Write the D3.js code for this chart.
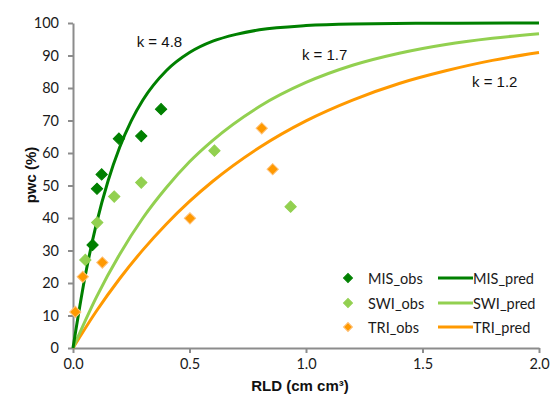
<!DOCTYPE html>
<html>
<head>
<meta charset="utf-8">
<script src="https://cdn.jsdelivr.net/npm/d3@7"></script>
<style>
html,body{margin:0;padding:0;background:#fff;}
svg{display:block;}
</style>
</head>
<body>
<svg id="chart" width="557" height="396"></svg>
<script>
// ---- data ----
const xTicks = [0, 0.5, 1.0, 1.5, 2.0];
const yTicks = [0, 10, 20, 30, 40, 50, 60, 70, 80, 90, 100];

const misObsX = [0.084, 0.103, 0.123, 0.197, 0.293, 0.378];
const misObsY = [31.7, 49.0, 53.4, 64.4, 65.2, 73.5];
const swiObsX = [0.053, 0.104, 0.177, 0.293, 0.607, 0.934];
const swiObsY = [27.1, 38.6, 46.6, 50.9, 60.7, 43.5];
const triObsX = [0.010, 0.042, 0.126, 0.502, 0.810, 0.857];
const triObsY = [11.1, 21.9, 26.3, 39.9, 67.6, 55.0];

const misPredX = [0, 0.05, 0.1, 0.15, 0.2, 0.25, 0.3, 0.4, 0.5, 0.6, 0.7, 0.8, 1.0, 1.2, 1.5, 2.0];
const misPredY = [0, 21.3, 38.1, 51.3, 61.7, 69.9, 76.3, 85.3, 90.9, 94.4, 96.5, 97.9, 99.2, 99.7, 99.9, 100];
const predX = [0, 0.1, 0.2, 0.3, 0.4, 0.5, 0.6, 0.8, 1.0, 1.2, 1.4, 1.6, 1.8, 2.0];
const swiPredY = [0, 15.6, 28.8, 40.0, 49.3, 57.3, 63.9, 74.3, 81.7, 87.0, 90.7, 93.4, 95.3, 96.7];
const triPredY = [0, 11.3, 21.3, 30.2, 38.1, 45.1, 51.3, 61.7, 69.9, 76.3, 81.4, 85.3, 88.5, 90.9];

const kLabels = ["k = 4.8", "k = 1.7", "k = 1.2"];
const kLabelX = [0.371, 1.08, 1.81];
const kLabelY = [94.2, 90.2, 81.9];

const seriesNames = ["MIS", "SWI", "TRI"];
const colors = ["#008000", "#92d050", "#ff9900"];

// ---- layout ----
const W = 557, H = 396;
const m = {left: 73, right: 18, top: 23, bottom: 48};
const svg = d3.select("#chart");
const x = d3.scaleLinear().domain([0, 2]).range([m.left, W - m.right]);
const y = d3.scaleLinear().domain([0, 100]).range([H - m.bottom, m.top]);

const tickFont = "Lato, 'Open Sans', sans-serif";
const axisColor = "#8c8c8c";

// axes
const xAxis = svg.append("g").attr("transform", `translate(0,${H - m.bottom})`)
  .call(d3.axisBottom(x).tickValues(xTicks).tickFormat(d3.format(".1f")).tickSize(5).tickPadding(6).tickSizeOuter(0));
const yAxis = svg.append("g").attr("transform", `translate(${m.left},0)`)
  .call(d3.axisLeft(y).tickValues(yTicks).tickSize(5).tickPadding(9).tickSizeOuter(0));
[xAxis, yAxis].forEach(a => {
  a.selectAll("path,line").attr("stroke", axisColor).attr("stroke-width", 2);
  a.selectAll("text").attr("fill", "#1a1a1a").style("font-family", tickFont).style("font-size", "14.5px");
});

// predicted lines
const preds = [
  {xs: misPredX, ys: misPredY, c: colors[0]},
  {xs: predX, ys: swiPredY, c: colors[1]},
  {xs: predX, ys: triPredY, c: colors[2]}
];
const line = d3.line().x(d => x(d[0])).y(d => y(d[1])).curve(d3.curveMonotoneX);
[2, 1, 0].forEach(i => {
  const p = preds[i];
  svg.append("path").datum(p.xs.map((v, j) => [v, p.ys[j]]))
    .attr("d", line).attr("fill", "none").attr("stroke", p.c).attr("stroke-width", 3);
});

// observed diamonds
const obs = [
  {xs: misObsX, ys: misObsY, c: colors[0], s: "#008000"},
  {xs: swiObsX, ys: swiObsY, c: colors[1], s: "#92d050"},
  {xs: triObsX, ys: triObsY, c: colors[2], s: "#ffc27a"}
];
obs.forEach(o => {
  svg.append("g").selectAll("path").data(o.xs.map((v, j) => [v, o.ys[j]])).join("path")
    .attr("d", d3.symbol().type(d3.symbolSquare).size(64))
    .attr("transform", d => `translate(${x(d[0])},${y(d[1])}) rotate(45)`)
    .attr("fill", o.c).attr("stroke", o.s).attr("stroke-width", 1);
});

// k labels
svg.append("g").selectAll("text").data(kLabels).join("text")
  .attr("x", (d, i) => x(kLabelX[i])).attr("y", (d, i) => y(kLabelY[i]))
  .attr("text-anchor", "middle").attr("dominant-baseline", "central")
  .style("font-family", "'Liberation Sans', Arial, sans-serif").style("font-size", "15px")
  .attr("fill", "#111").text(d => d);

// axis titles
svg.append("text").attr("x", 300).attr("y", 385).attr("text-anchor", "middle")
  .attr("dominant-baseline", "central")
  .style("font-family", "'Liberation Sans', Arial, sans-serif").style("font-size", "15px").style("font-weight", "bold")
  .attr("fill", "#111").text("RLD (cm cm³)");
svg.append("text").attr("transform", "translate(30,175) rotate(-90)").attr("text-anchor", "middle")
  .attr("dominant-baseline", "central")
  .style("font-family", "'Liberation Sans', Arial, sans-serif").style("font-size", "15px").style("font-weight", "bold")
  .attr("fill", "#111").text("pwc (%)");

// legend
const legRowY = [278, 303, 327];
const leg = svg.append("g");
seriesNames.forEach((n, i) => {
  leg.append("path").attr("d", d3.symbol().type(d3.symbolSquare).size(40))
    .attr("transform", `translate(348,${legRowY[i]}) rotate(45)`)
    .attr("fill", colors[i]).attr("stroke", obs[i].s).attr("stroke-width", 1);
  leg.append("text").attr("x", 368).attr("y", legRowY[i]).attr("dominant-baseline", "central")
    .style("font-family", tickFont).style("font-size", "14.5px").attr("fill", "#1a1a1a").text(n + "_obs");
  leg.append("line").attr("x1", 438).attr("x2", 473).attr("y1", legRowY[i]).attr("y2", legRowY[i])
    .attr("stroke", colors[i]).attr("stroke-width", 3);
  leg.append("text").attr("x", 473).attr("y", legRowY[i]).attr("dominant-baseline", "central")
    .style("font-family", tickFont).style("font-size", "14.5px").attr("fill", "#1a1a1a").text(n + "_pred");
});
</script>
</body>
</html>
